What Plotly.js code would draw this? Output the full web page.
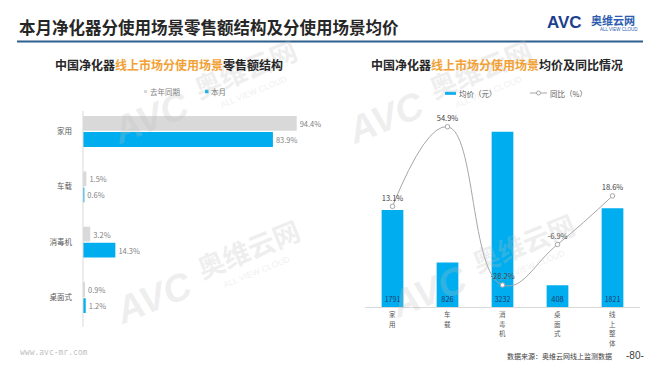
<!DOCTYPE html>
<html>
<head>
<meta charset="utf-8">
<script src="https://cdn.plot.ly/plotly-3.0.1.min.js"></script>
<style>
html,body{margin:0;padding:0;background:#fff;}
#chart{width:660px;height:372px;}
</style>
</head>
<body>
<div id="chart"></div>
<script>
// ---- data ----
const categoriesLeft = ['家用', '车载', '消毒机', '桌面式'];
const lastYearShare = [94.4, 1.5, 3.2, 0.9];
const thisMonthShare = [83.9, 0.6, 14.3, 1.2];

const categoriesRight = ['家用', '车载', '消毒机', '桌面式', '线上整体'];
const avgPrice = [1791, 826, 3232, 408, 1821];
const yoyChange = [13.1, 54.9, -28.2, -6.9, 18.6];

// ---- helpers ----
const W = 660, H = 372;
const px = x => x / W;
const py = y => 1 - y / H;
const CJK = '"Noto Sans CJK SC", "Noto Sans", sans-serif';
const GRAY = '#D9D9D9';
const BLUE = '#00AEEF';
const ORANGE = '#F2A136';

const traces = [
  {
    type: 'bar', orientation: 'h', name: '去年同期',
    y: categoriesLeft, x: lastYearShare,
    xaxis: 'x', yaxis: 'y',
    marker: {color: GRAY},
    text: lastYearShare.map(v => v.toFixed(1) + '%'),
    textposition: 'outside', cliponaxis: false,
    textfont: {size: 7.5, color: '#7F7F7F', family: CJK},
    hoverinfo: 'skip', showlegend: false
  },
  {
    type: 'bar', orientation: 'h', name: '本月',
    y: categoriesLeft, x: thisMonthShare,
    xaxis: 'x', yaxis: 'y',
    marker: {color: BLUE},
    text: thisMonthShare.map(v => v.toFixed(1) + '%'),
    textposition: 'outside', cliponaxis: false,
    textfont: {size: 7.5, color: '#7F7F7F', family: CJK},
    hoverinfo: 'skip', showlegend: false
  },
  {
    type: 'bar', name: '均价（元）',
    x: categoriesRight, y: avgPrice,
    xaxis: 'x2', yaxis: 'y2',
    width: 0.395,
    marker: {color: BLUE},
    text: avgPrice.map(v => String(v)),
    textposition: 'inside', insidetextanchor: 'start',
    textangle: 0,
    textfont: {size: 7.5, color: '#1F3B6E', family: CJK},
    hoverinfo: 'skip', showlegend: false
  },
  {
    type: 'scatter', mode: 'lines+markers+text', name: '同比（%）',
    x: categoriesRight, y: yoyChange,
    xaxis: 'x2', yaxis: 'y3',
    line: {color: '#A6A6A6', width: 1, shape: 'spline', smoothing: 1.3},
    marker: {size: 4.5, color: '#FFFFFF', line: {color: '#A6A6A6', width: 1}},
    text: yoyChange.map(v => v.toFixed(1) + '%'),
    textposition: 'top center', cliponaxis: false,
    textfont: {size: 7.5, color: '#404040', family: CJK},
    hoverinfo: 'skip', showlegend: false
  }
];

const annotations = [];
const shapes = [];

function txt(x, y, text, size, color, opts) {
  annotations.push(Object.assign({
    xref: 'paper', yref: 'paper', x: px(x), y: py(y), text: text,
    showarrow: false, xanchor: 'left', yanchor: 'middle',
    font: {size: size, color: color, family: CJK}
  }, opts || {}));
}

// watermarks
const wmColor = 'rgba(190,190,190,0.25)';
function watermark(cx, cy) {
  txt(cx, cy, '<b>奥维云网</b>', 27, wmColor, {xanchor: 'center', textangle: -22});
  txt(cx - 95, cy + 50, '<b><i>AVC</i></b>', 38, wmColor,
      {xanchor: 'center', textangle: -22, font: {size: 38, color: wmColor, family: 'Liberation Sans, Arial, sans-serif'}});
  txt(cx + 8, cy + 24, 'ALL VIEW CLOUD', 8.5, wmColor,
      {xanchor: 'center', textangle: -22, font: {size: 8.5, color: wmColor, family: 'Liberation Sans, Arial, sans-serif'}});
}
watermark(245, 68);
watermark(480, 68);
watermark(248, 248);
watermark(523, 242);

// main title
txt(17, 27, '<b>本月净化器分使用场景零售额结构及分使用场景均价</b>', 16.5, '#262626');
shapes.push({type: 'line', xref: 'paper', yref: 'paper', x0: px(17), x1: px(643), y0: py(41.5), y1: py(41.5),
             line: {color: '#2F5F8C', width: 2}});

// logo
txt(545, 23, '<b>AVC</b>', 17, '#1E3F8F', {font: {size: 17, color: '#1E3F8F', family: 'Liberation Sans, Arial, sans-serif'}});
txt(589, 20, '<b>奥维云网</b>', 11, '#2D5DB0');
txt(598, 29.5, 'ALL VIEW CLOUD', 4.5, '#2D5DB0', {font: {size: 4.5, color: '#2D5DB0', family: 'Liberation Sans, Arial, sans-serif'}});

// subtitles
txt(169, 64, '<b>中国净化器<span style="color:' + ORANGE + '">线上市场分使用场景</span>零售额结构</b>', 12, '#262626', {xanchor: 'center'});
txt(497, 64, '<b>中国净化器<span style="color:' + ORANGE + '">线上市场分使用场景</span>均价及同比情况</b>', 12, '#262626', {xanchor: 'center'});

// left legend
shapes.push({type: 'rect', xref: 'paper', yref: 'paper', x0: px(144), x1: px(147), y0: py(93), y1: py(90),
             fillcolor: GRAY, line: {width: 0}});
txt(148, 91.5, '去年同期', 7.5, '#7F7F7F');
shapes.push({type: 'rect', xref: 'paper', yref: 'paper', x0: px(205), x1: px(208.5), y0: py(93.2), y1: py(89.8),
             fillcolor: BLUE, line: {width: 0}});
txt(209, 91.5, '本月', 7.5, '#7F7F7F');

// right legend
shapes.push({type: 'rect', xref: 'paper', yref: 'paper', x0: px(445), x1: px(456), y0: py(94.8), y1: py(91.8),
             fillcolor: BLUE, line: {width: 0}});
txt(457, 93, '均价（元）', 7.5, '#595959');
shapes.push({type: 'line', xref: 'paper', yref: 'paper', x0: px(530), x1: px(547), y0: py(93), y1: py(93),
             line: {color: '#A6A6A6', width: 1}});
shapes.push({type: 'circle', xref: 'paper', yref: 'paper', x0: px(536.5), x1: px(540.5), y0: py(95), y1: py(91),
             fillcolor: '#FFFFFF', line: {color: '#A6A6A6', width: 1}});
txt(548, 93, '同比（%）', 7.5, '#595959');

// right category labels, stacked vertically one character per line
categoriesRight.forEach(cat => {
  cat.split('').forEach((ch, j) => {
    annotations.push({
      xref: 'x2', yref: 'paper', x: cat, y: py(314 + j * 9.5), text: ch,
      showarrow: false, xanchor: 'center', yanchor: 'middle',
      font: {size: 6.5, color: '#595959', family: CJK}
    });
  });
});

// left axis line
shapes.push({type: 'line', xref: 'paper', yref: 'paper', x0: px(83), x1: px(83), y0: py(111), y1: py(326.7),
             line: {color: GRAY, width: 1}});

// footer
txt(18, 352.7, 'www.avc-mr.com', 8, '#BFBFBF', {font: {size: 8, color: '#BFBFBF', family: 'DejaVu Sans Mono, monospace'}});
txt(505, 355.7, '数据来源：奥维云网线上监测数据', 7, '#404040');
txt(624, 355.7, '-80-', 10, '#404040', {font: {size: 10, color: '#404040', family: 'Liberation Sans, Arial, sans-serif'}});

const layout = {
  width: W, height: H,
  margin: {l: 0, r: 0, t: 0, b: 0, pad: 0},
  paper_bgcolor: '#FFFFFF', plot_bgcolor: 'rgba(0,0,0,0)',
  font: {family: CJK, size: 8, color: '#595959'},
  showlegend: false,
  barmode: 'group', bargap: 0.42, bargroupgap: 0.08,
  xaxis: {
    domain: [px(83), px(325)], range: [0, 106.9],
    showgrid: false, zeroline: false, showline: false, showticklabels: false, ticks: ''
  },
  yaxis: {
    domain: [py(325.2), py(103.8)], type: 'category',
    categoryorder: 'array', categoryarray: categoriesLeft,
    autorange: 'reversed',
    showgrid: false, zeroline: false, showline: false, ticks: '',
    ticklabelstandoff: 10,
    tickfont: {size: 7.5, color: '#595959', family: CJK}
  },
  xaxis2: {
    domain: [px(365), px(640)], anchor: 'y2', type: 'category',
    categoryorder: 'array', categoryarray: categoriesRight,
    showticklabels: false,
    showgrid: false, zeroline: false, showline: true, linecolor: GRAY, linewidth: 1, ticks: ''
  },
  yaxis2: {
    domain: [py(307.3), py(110)], anchor: 'x2', range: [0, 3631],
    showgrid: false, zeroline: false, showline: false, showticklabels: false, ticks: ''
  },
  yaxis3: {
    overlaying: 'y2', anchor: 'x2', side: 'right', range: [-39.9, 63.7],
    showgrid: false, zeroline: false, showline: false, showticklabels: false, ticks: ''
  },
  annotations: annotations,
  shapes: shapes
};

Plotly.newPlot('chart', traces, layout, {staticPlot: true, displayModeBar: false});
</script>
</body>
</html>
